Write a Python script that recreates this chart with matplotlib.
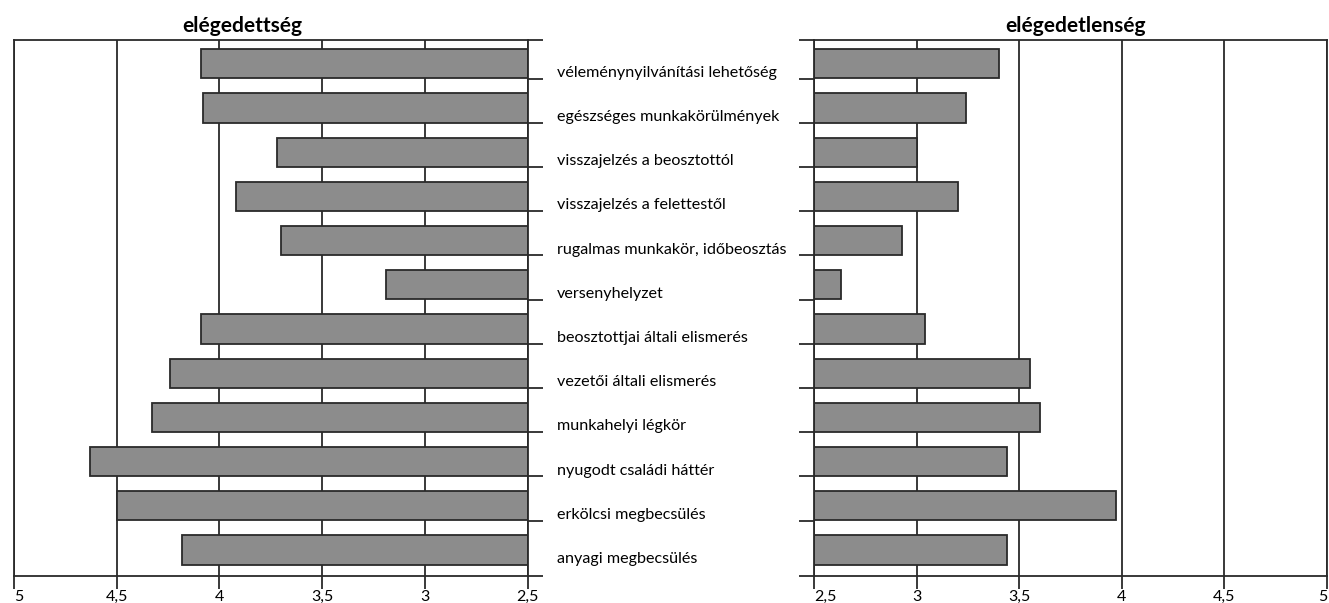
import numpy as np
import matplotlib.pyplot as plt

# ========= data =========
categories = [
    "véleménynyilvánítási lehetőség",
    "egészséges munkakörülmények",
    "visszajelzés a beosztottól",
    "visszajelzés a felettestől",
    "rugalmas munkakör, időbeosztás",
    "versenyhelyzet",
    "beosztottjai általi elismerés",
    "vezetői általi elismerés",
    "munkahelyi légkör",
    "nyugodt családi háttér",
    "erkölcsi megbecsülés",
    "anyagi megbecsülés",
]
elegedettseg = [4.09, 4.08, 3.72, 3.92, 3.70, 3.19, 4.09, 4.24, 4.33, 4.63, 4.50, 4.18]
elegedetlenseg = [3.40, 3.24, 3.00, 3.20, 2.93, 2.63, 3.04, 3.55, 3.60, 3.44, 3.97, 3.44]
x_ticks = [5, 4.5, 4, 3.5, 3, 2.5]
x_ticklabels = ["5", "4,5", "4", "3,5", "3", "2,5"]

plt.rcParams['font.family'] = ['Lato', 'DejaVu Sans']
LINE = "#2a2a2a"
BAR = "#8c8c8c"

fig = plt.figure(figsize=(13.29, 6.03), dpi=100)
ax_l = fig.add_axes([0.0105, 0.0453, 0.3865, 0.8884])
ax_r = fig.add_axes([0.6127, 0.0453, 0.3858, 0.8884])

y = np.arange(len(categories))
bounds = y[:-1] + 0.335
ext = 15 / 513.7  # horizontal line extension past the value axis


def style(ax, side):
    ax.set_xlim(2.5, 5)
    ax.set_ylim(11.58, -0.54)
    ax.set_axisbelow(True)
    ax.xaxis.grid(True, color=LINE, lw=1.3)
    for s in ax.spines.values():
        s.set_color(LINE)
        s.set_linewidth(1.3)
    ax.set_xticks(x_ticks)
    ax.set_xticklabels(x_ticklabels)
    ax.tick_params(axis="x", direction="out", length=9, width=1.3, color=LINE,
                   pad=1, labelsize=11.5)
    ax.yaxis.set_ticks_position(side)
    ax.set_yticks(bounds)
    ax.set_yticklabels([])
    ax.tick_params(axis="y", which="major", direction="out", length=11,
                   width=1.3, color=LINE)
    # top/bottom lines run on past the category axis
    x0, x1 = (1, 1 + ext) if side == "right" else (-ext, 0)
    for yy in (0, 1):
        ax.plot([x0, x1], [yy, yy], transform=ax.transAxes, color=LINE,
                lw=1.3, clip_on=False, solid_capstyle="butt")


# ========= left: elégedettség =========
style(ax_l, "right")
ax_l.set_xlim(5, 2.5)
ax_l.barh(y, np.array(elegedettseg) - 2.5, left=2.5, height=0.66,
          color=BAR, edgecolor=LINE, lw=1.3)
ax_l.set_yticks(y + 0.17, minor=True)
ax_l.set_yticklabels(categories, minor=True)
ax_l.tick_params(axis="y", which="minor", length=0, pad=21, labelsize=11.6)
ax_l.get_xticklabels()[0].set_ha("left")
ax_l.set_title("elégedettség", fontweight="bold", fontsize=15, x=0.444, pad=6)

# ========= right: elégedetlenség =========
style(ax_r, "left")
ax_r.barh(y, np.array(elegedetlenseg) - 2.5, left=2.5, height=0.66,
          color=BAR, edgecolor=LINE, lw=1.3)
ax_r.get_xticklabels()[-1].set_ha("left")
ax_r.get_xticklabels()[0].set_ha("right")
ax_r.set_title("elégedetlenség", fontweight="bold", fontsize=15, x=0.51, pad=6)

plt.savefig("out.png", dpi=100)
